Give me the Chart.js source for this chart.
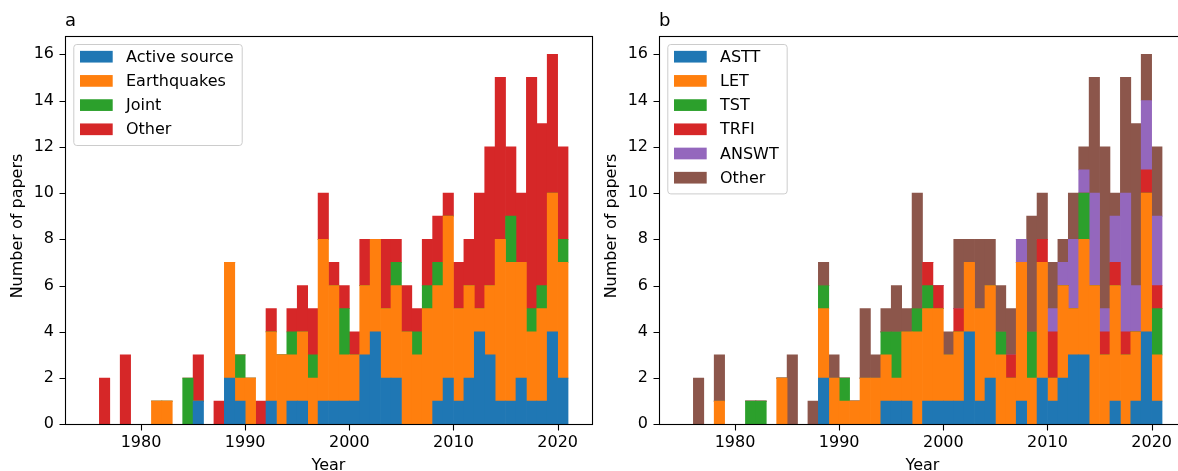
<!DOCTYPE html>
<html><head><meta charset="utf-8">
<script src="https://cdn.jsdelivr.net/npm/chart.js@4.4.1/dist/chart.umd.min.js"></script>
<style>
html,body{margin:0;padding:0;background:#fff;width:1178px;height:471px;overflow:hidden;position:relative}
canvas{position:absolute;top:0}
#ca{left:0}
#cb{left:594px}
</style></head><body>
<canvas id="ca" width="594" height="471"></canvas>
<canvas id="cb" width="600" height="471"></canvas>
<script>
// Histogram bins: one per year (bin start year)
const years = [1975,1976,1977,1978,1979,1980,1981,1982,1983,1984,1985,1986,1987,1988,1989,1990,1991,1992,1993,1994,1995,1996,1997,1998,1999,2000,2001,2002,2003,2004,2005,2006,2007,2008,2009,2010,2011,2012,2013,2014,2015,2016,2017,2018,2019,2020];
const xTickLabels = [1980,1990,2000,2010,2020];
const yTickLabels = [0,2,4,6,8,10,12,14,16];

// Panel a
const labelsA = ["Active source","Earthquakes","Joint","Other"];
const activeSource = [0,0,0,0,0,0,0,0,0,0, 1,0,0,2,1,0,0,1,0,1, 1,0,1,1,1,1,3,4,2,2, 0,0,0,1,2,1,2,4,3,1, 1,2,1,1,4,2];
const earthquakes  = [0,0,0,0,0,0,1,1,0,0, 0,0,0,5,1,2,0,3,3,2, 3,2,7,5,2,2,3,4,3,4, 4,3,5,5,7,4,4,1,3,7, 6,5,3,4,6,5];
const joint        = [0,0,0,0,0,0,0,0,0,2, 0,0,0,0,1,0,0,0,0,1, 0,1,0,0,2,0,0,0,0,1, 0,1,1,1,0,0,0,0,0,0, 2,0,1,1,0,1];
const otherA       = [0,2,0,3,0,0,0,0,0,0, 2,0,1,0,0,0,1,1,0,1, 2,2,2,1,1,1,2,0,3,1, 2,1,2,2,1,2,2,5,6,7, 3,3,10,7,6,4];

// Panel b
const labelsB = ["ASTT","LET","TST","TRFI","ANSWT","Other"];
const astt  = [0,0,0,0,0,0,0,0,0,0, 0,0,0,2,0,0,0,0,0,1, 1,1,0,1,1,1,1,4,1,2, 0,0,1,0,2,1,2,3,3,0, 0,1,0,1,4,1];
const letB  = [0,0,0,1,0,0,0,0,0,2, 0,0,0,3,2,1,1,2,2,2, 1,3,4,4,4,2,3,3,4,4, 3,2,6,2,5,1,4,2,5,6, 3,5,3,3,6,2];
const tst   = [0,0,0,0,0,0,1,1,0,0, 0,0,0,1,0,1,0,0,0,1, 2,0,1,1,0,0,0,0,0,0, 1,0,0,2,0,0,0,0,2,0, 0,0,0,0,0,2];
const trfi  = [0,0,0,0,0,0,0,0,0,0, 0,0,0,0,0,0,0,0,0,0, 0,0,0,1,1,0,1,0,0,0, 0,1,0,0,1,2,0,0,0,0, 1,1,1,0,1,1];
const answt = [0,0,0,0,0,0,0,0,0,0, 0,0,0,0,0,0,0,0,0,0, 0,0,0,0,0,0,0,0,0,0, 0,0,1,0,0,1,1,3,1,4, 1,2,6,2,3,3];
const otherB= [0,2,0,2,0,0,0,0,0,0, 3,0,1,1,1,0,0,3,1,1, 2,1,5,0,0,1,3,1,3,2, 2,2,0,5,2,2,1,2,1,5, 7,1,5,7,2,3];

const colors = ["#1f77b4","#ff7f0e","#2ca02c","#d62728","#9467bd","#8c564b"];
const FONT = "'DejaVu Sans', sans-serif";

const decor = {
  id: 'decor',
  afterDraw(chart, args, opts) {
    const ca = chart.chartArea, ctx = chart.ctx;
    const xs = chart.scales.x, ys = chart.scales.y;
    ctx.save();
    ctx.strokeStyle = '#000'; ctx.lineWidth = 1.1;
    const L = Math.round(ca.left) + 0.5, T = Math.round(ca.top) + 0.5;
    const R = Math.round(ca.right) + 0.5, B = Math.round(ca.bottom) + 0.5;
    ctx.strokeRect(L, T, R - L, B - T);
    // tick marks
    ctx.lineWidth = 1.1;
    ctx.beginPath();
    xTickLabels.forEach(v => {
      const px = Math.round(xs.getPixelForValue(v)) + 0.5;
      ctx.moveTo(px, B); ctx.lineTo(px, B + 6);
    });
    yTickLabels.forEach(v => {
      const py = Math.round(ys.getPixelForValue(v)) + 0.5;
      ctx.moveTo(L, py); ctx.lineTo(L - 6, py);
    });
    ctx.stroke();
    ctx.fillStyle = '#000';
    ctx.font = `18px ${FONT}`; ctx.textAlign = 'left'; ctx.textBaseline = 'alphabetic';
    ctx.fillText(opts.title, ca.left, 26);
    ctx.font = `16px ${FONT}`; ctx.textAlign = 'center';
    ctx.fillText('Year', (ca.left + ca.right) / 2, 470);
    ctx.save(); ctx.translate(ca.left - 43.5, 226); ctx.rotate(-Math.PI/2);
    ctx.fillText('Number of papers', 0, 0); ctx.restore();
    // legend
    const ds = chart.data.datasets;
    ctx.font = `16px ${FONT}`;
    const maxW = Math.max(...ds.map(d => ctx.measureText(d.label).width));
    const lx = ca.left + 8.3, ly = ca.top + 8.2;
    const w = 52.7 + maxW + 8, h = 12.7 + (ds.length - 1) * 24.2 + 15.7;
    ctx.beginPath();
    ctx.roundRect(lx + 0.5, ly + 0.5, w, h, 3);
    ctx.fillStyle = 'rgba(255,255,255,0.8)'; ctx.fill();
    ctx.strokeStyle = '#cccccc'; ctx.lineWidth = 1; ctx.stroke();
    ds.forEach((d, i) => {
      const cy = ly + 12.7 + i * 24.2;
      ctx.fillStyle = d.backgroundColor;
      ctx.fillRect(lx + 6.7, cy - 5.85, 32.7, 11.7);
      ctx.fillStyle = '#000'; ctx.textAlign = 'left'; ctx.textBaseline = 'middle';
      ctx.fillText(d.label, lx + 52.7, cy + 1);
    });
    ctx.restore();
  }
};

function makeChart(id, title, labels, series, rightPad) {
  const datasets = series.map((s, i) => ({
    label: labels[i],
    data: years.map((yr, j) => ({x: yr + 0.5, y: s[j]})),
    backgroundColor: colors[i],
    borderWidth: 0,
    barPercentage: 1.0,
    categoryPercentage: 1.0
  }));
  return new Chart(document.getElementById(id), {
    type: 'bar',
    data: {datasets},
    options: {
      responsive: false, animation: false,
      layout: {padding: {left: 0, top: 35.8, right: rightPad, bottom: 0}},
      plugins: {legend: {display: false}, tooltip: {enabled: false}, decor: {title}},
      scales: {
        x: {
          type: 'linear', stacked: true, min: 1972.7, max: 2023.3, offset: false,
          afterFit: s => { s.height = 46.7; },
          afterBuildTicks: s => { s.ticks = xTickLabels.map(v => ({value: v})); },
          grid: {display: true, offset: false, drawOnChartArea: false, drawTicks: true, tickLength: 6, color: 'rgba(0,0,0,0)', lineWidth: 1},
          border: {display: false},
          ticks: {color: '#000', font: {family: FONT, size: 16}, padding: 3, maxRotation: 0, autoSkip: false, callback: v => String(v)}
        },
        y: {
          stacked: true, min: 0, max: 16.8,
          afterFit: s => { s.width = 65; },
          afterBuildTicks: s => { s.ticks = yTickLabels.map(v => ({value: v})); },
          grid: {display: true, offset: false, drawOnChartArea: false, drawTicks: true, tickLength: 6, color: 'rgba(0,0,0,0)', lineWidth: 1},
          border: {display: false},
          ticks: {color: '#000', font: {family: FONT, size: 16}, padding: 5, callback: v => String(v)}
        }
      }
    },
    plugins: [decor]
  });
}

makeChart('ca', 'a', labelsA, [activeSource, earthquakes, joint, otherA], 2);
makeChart('cb', 'b', labelsB, [astt, letB, tst, trfi, answt, otherB], 8);
</script>
</body></html>
